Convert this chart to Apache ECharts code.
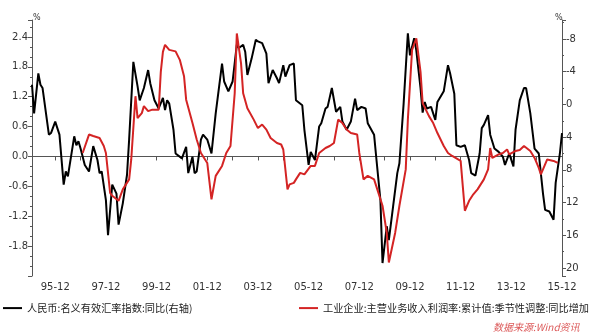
<!DOCTYPE html>
<html><head><meta charset="utf-8">
<script src="https://cdn.jsdelivr.net/npm/echarts@6/dist/echarts.min.js"></script>
<style>html,body{margin:0;padding:0;background:#fff}#c{width:600px;height:334px}</style>
</head><body><div id="c"></div>
<script>
const xTickLabels = ['95-12','97-12','99-12','01-12','03-12','05-12','07-12','09-12','11-12','13-12','15-12'];
const leftTicks = [-1.8,-1.2,-0.6,0.0,0.6,1.2,1.8,2.4];
const rightTicks = [-8,-4,0,4,8,12,16,20];

const blackName = '人民币:名义有效汇率指数:同比(右轴)';
const redName = '工业企业:主营业务收入利润率:累计值:季节性调整:同比增加';

const blackMonths = ['1995-01','1995-02','1995-04','1995-05','1995-06','1995-09','1995-10','1995-12','1996-02','1996-04','1996-05','1996-06','1996-09','1996-10','1996-11','1996-12','1997-02','1997-04','1997-06','1997-08','1997-09','1997-10','1997-12','1998-01','1998-03','1998-05','1998-06','1998-08','1998-10','1998-11','1999-01','1999-03','1999-04','1999-06','1999-08','1999-09','1999-11','2000-01','2000-03','2000-04','2000-05','2000-06','2000-08','2000-09','2000-12','2001-02','2001-03','2001-05','2001-06','2001-07','2001-09','2001-10','2001-12','2002-02','2002-04','2002-07','2002-08','2002-10','2002-12','2003-02','2003-03','2003-05','2003-06','2003-07','2003-09','2003-11','2003-12','2004-02','2004-04','2004-05','2004-07','2004-09','2004-10','2004-12','2005-01','2005-03','2005-05','2005-06','2005-09','2005-10','2005-12','2006-01','2006-03','2006-05','2006-06','2006-08','2006-09','2006-11','2007-01','2007-03','2007-04','2007-06','2007-08','2007-10','2007-11','2008-01','2008-03','2008-04','2008-07','2008-08','2008-10','2008-11','2009-01','2009-02','2009-04','2009-06','2009-07','2009-09','2009-11','2009-12','2010-02','2010-03','2010-05','2010-06','2010-07','2010-08','2010-10','2010-12','2011-01','2011-04','2011-06','2011-07','2011-09','2011-10','2011-12','2012-02','2012-04','2012-05','2012-07','2012-09','2012-10','2012-11','2013-01','2013-02','2013-04','2013-06','2013-08','2013-09','2013-11','2014-01','2014-02','2014-04','2014-06','2014-07','2014-09','2014-11','2015-01','2015-03','2015-04','2015-06','2015-08','2015-09','2015-11','2015-12'];
const blackValues = [-2.4,1.1,-3.8,-2.4,-2.0,3.7,3.5,2.1,3.7,9.8,8.2,8.8,3.9,5.0,4.5,5.4,7.4,8.2,5.1,6.8,8.4,8.2,11.7,16.0,9.8,10.9,14.7,12.1,8.6,4.3,-5.2,-2.2,-0.5,-2.0,-4.2,-2.6,-0.5,0.5,-0.8,0.7,-0.5,-0.1,3.1,6.0,6.6,5.2,8.4,6.4,8.4,8.2,4.3,3.7,4.3,6.0,1.1,-5.0,-2.8,-1.6,-2.8,-7.3,-6.9,-7.3,-6.4,-3.6,-5.6,-7.9,-7.7,-7.5,-6.2,-2.6,-4.2,-3.2,-2.6,-4.8,-3.4,-4.8,-5.0,-0.5,0.1,3.1,7.4,5.8,6.8,2.7,2.3,0.5,0.3,-2.0,0.9,0.3,2.1,3.1,2.1,-0.7,0.7,0.3,0.5,2.3,3.7,6.4,11.7,19.4,14.9,16.6,12.5,8.4,7.2,-0.1,-8.7,-6.0,-8.1,-6.6,-2.0,1.0,-0.3,0.5,0.3,1.9,-0.3,-1.6,-4.8,-3.8,-1.3,5.0,5.2,5.0,6.8,8.4,8.7,6.0,2.9,2.5,1.3,3.7,5.4,5.8,6.4,7.4,6.0,7.6,3.1,-0.5,-2.0,-2.0,1.1,5.4,6.0,10.9,12.9,13.1,14.1,9.6,6.0,3.5];

const redMonths = ['1997-01','1997-04','1997-06','1997-09','1997-11','1997-12','1998-02','1998-03','1998-06','1998-08','1998-11','1998-12','1999-02','1999-03','1999-05','1999-06','1999-08','1999-10','2000-01','2000-02','2000-03','2000-04','2000-06','2000-09','2000-11','2001-01','2001-02','2001-05','2001-07','2001-09','2001-12','2002-02','2002-04','2002-07','2002-09','2002-11','2003-01','2003-02','2003-04','2003-05','2003-07','2003-10','2003-12','2004-02','2004-04','2004-06','2004-09','2004-11','2004-12','2005-02','2005-03','2005-05','2005-06','2005-08','2005-10','2006-01','2006-03','2006-05','2006-08','2006-10','2006-12','2007-02','2007-04','2007-06','2007-08','2007-11','2007-12','2008-02','2008-04','2008-07','2008-08','2008-11','2009-01','2009-02','2009-05','2009-07','2009-10','2009-11','2010-01','2010-03','2010-05','2010-06','2010-09','2010-11','2011-01','2011-04','2011-06','2011-08','2011-12','2012-01','2012-02','2012-04','2012-06','2012-08','2012-11','2013-01','2013-02','2013-03','2013-06','2013-08','2013-10','2013-11','2014-02','2014-04','2014-06','2014-09','2014-11','2015-01','2015-02','2015-04','2015-05','2015-08','2015-10'];
const redValues = [0.07,0.44,0.41,0.37,0.21,0.07,-0.73,-0.79,-0.89,-0.66,-0.46,-0.06,1.21,0.77,0.87,1.01,0.91,0.94,0.94,1.7,2.1,2.24,2.14,2.11,1.94,1.61,1.14,0.67,0.34,0.07,-0.13,-0.86,-0.39,-0.19,0.07,0.21,1.27,2.47,1.87,1.27,0.97,0.74,0.57,0.64,0.54,0.37,0.27,0.24,0.14,-0.66,-0.56,-0.53,-0.46,-0.33,-0.36,-0.19,-0.19,0.07,0.17,0.21,0.27,0.74,0.67,0.54,0.47,0.44,0.07,-0.46,-0.39,-0.46,-0.59,-0.99,-1.53,-2.13,-1.53,-0.99,-0.26,0.74,2.14,2.37,1.7,1.07,0.81,0.67,0.47,0.21,0.07,0.01,-0.09,-0.59,-1.09,-0.89,-0.76,-0.66,-0.46,-0.26,0.17,-0.03,0.04,0.07,0.14,0.04,0.11,0.13,0.21,0.11,-0.03,-0.23,-0.36,-0.16,-0.06,-0.09,-0.13];

// years since Dec 1994 (Dec 1995 = 1)
function toT(m){ const p = m.split('-').map(Number); return (p[0]-1994) + (p[1]-12)/12; }
const blackData = blackMonths.map((m,i)=>[toT(m), blackValues[i]]);
const redData = redMonths.map((m,i)=>[toT(m), redValues[i]]);

const numFont = 'DejaVu Sans';
const cjkFont = 'Noto Sans CJK SC';
const axisCol = '#555';

const chart = echarts.init(document.getElementById('c'), null, {renderer:'canvas'});
chart.setOption({
  animation: false,
  backgroundColor: '#fff',
  grid: {left: 32, right: 38, top: 20, bottom: 58},
  xAxis: {
    type: 'value', min: 1/12, max: 21, minInterval: 1, maxInterval: 1, splitNumber: 21,
    axisLine: {lineStyle: {color: axisCol, width: 1}},
    axisTick: {length: 4, lineStyle: {color: axisCol}},
    splitLine: {show: false},
    axisLabel: {
      margin: 6, fontSize: 10, color: '#333', fontFamily: numFont,
      formatter: v => {
        if (Math.abs(v - Math.round(v)) > 1e-6) return '';
        const yr = 1994 + Math.round(v);
        const s = String(yr % 100).padStart(2, '0') + '-12';
        return xTickLabels.includes(s) ? s : '';
      }
    }
  },
  yAxis: [
    {
      type: 'value', position: 'left', min: -2.4, max: 2.74, interval: 0.6,
      axisLine: {show: true, lineStyle: {color: axisCol}},
      axisTick: {show: true, length: 4, lineStyle: {color: axisCol}},
      minorTick: {show: true, splitNumber: 3, length: 2, lineStyle: {color: axisCol}},
      splitLine: {show: false},
      axisLabel: {
        margin: 4, fontSize: 10, color: '#333', fontFamily: numFont,
        formatter: v => {
          const hit = leftTicks.find(t => Math.abs(t - v) < 1e-6);
          return hit === undefined ? '' : hit.toFixed(1);
        }
      }
    },
    {
      type: 'value', position: 'right', inverse: true, min: -10.32, max: 20.98,
      minInterval: 4, maxInterval: 4, splitNumber: 8,
      axisLine: {show: true, lineStyle: {color: axisCol}},
      axisTick: {show: true, length: 4, lineStyle: {color: axisCol}},
      minorTick: {show: true, splitNumber: 2, length: 2, lineStyle: {color: axisCol}},
      splitLine: {show: false},
      axisLabel: {
        margin: 4, fontSize: 10, color: '#333', fontFamily: numFont,
        formatter: v => {
          const hit = rightTicks.find(t => Math.abs(t - v) < 1e-6);
          return hit === undefined ? '' : String(hit);
        }
      }
    }
  ],
  legend: [
    {data: [blackName], left: 3, top: 303, padding: 0, icon: 'rect', itemWidth: 19, itemHeight: 2,
     textStyle: {fontSize: 10.2, color: '#222', fontFamily: cjkFont}},
    {data: [redName], left: 299, top: 303, padding: 0, icon: 'rect', itemWidth: 19, itemHeight: 2,
     textStyle: {fontSize: 10.2, color: '#222', fontFamily: cjkFont}}
  ],
  graphic: [
    {type: 'text', left: 33, top: 14, style: {text: '%', fontSize: 8, fill: '#333', fontFamily: numFont}},
    {type: 'text', left: 555, top: 14, style: {text: '%', fontSize: 8, fill: '#333', fontFamily: numFont}},
    {type: 'text', left: 493, top: 322, style: {text: '数据来源:Wind资讯', fontSize: 10, fontStyle: 'italic', fill: '#dc5a5a', fontFamily: cjkFont}}
  ],
  series: [
    {name: blackName, type: 'line', yAxisIndex: 1, data: blackData, showSymbol: false, symbol: 'none',
     lineStyle: {color: '#000', width: 2}, itemStyle: {color: '#000'}, clip: false, z: 2},
    {name: redName, type: 'line', yAxisIndex: 0, data: redData, showSymbol: false, symbol: 'none',
     lineStyle: {color: '#d42424', width: 2}, itemStyle: {color: '#d42424'}, clip: false, z: 3}
  ]
});
</script></body></html>
